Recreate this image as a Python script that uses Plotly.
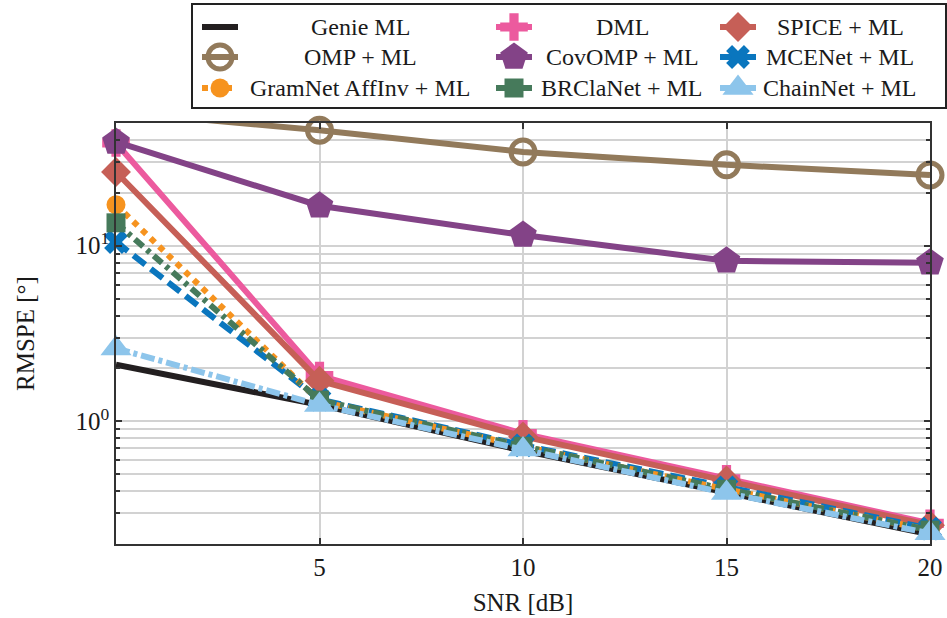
import math
import plotly.graph_objects as go

# SNR grid (dB)
snr = [0, 5, 10, 15, 20]

# RMSPE in degrees per estimator
genie_ml = [2.10, 1.24, 0.68, 0.39, 0.227]
omp_ml = [58.0, 45.4, 34.2, 28.9, 25.3]
dml = [38.5, 1.82, 0.85, 0.47, 0.262]
spice_ml = [26.3, 1.70, 0.82, 0.46, 0.256]
covomp_ml = [39.0, 16.9, 11.5, 8.2, 8.0]
mcenet_ml = [10.5, 1.33, 0.73, 0.42, 0.245]
gramnet_ml = [17.1, 1.30, 0.72, 0.41, 0.240]
brclanet_ml = [13.5, 1.32, 0.72, 0.41, 0.240]
chainnet_ml = [2.60, 1.24, 0.69, 0.39, 0.230]

names = ["Genie ML", "DML", "SPICE + ML",
         "OMP + ML", "CovOMP + ML", "MCENet + ML",
         "GramNet AffInv + ML", "BRClaNet + ML", "ChainNet + ML"]
values = [genie_ml, dml, spice_ml,
          omp_ml, covomp_ml, mcenet_ml,
          gramnet_ml, brclanet_ml, chainnet_ml]

# line / marker styles, same order as names
styles = [
    dict(color="#231f20", dash="solid", symbol=None, size=0, lw=0),
    dict(color="#ec5a9e", dash="solid", symbol="cross", size=23, lw=0),
    dict(color="#c65f57", dash="solid", symbol="diamond", size=23, lw=0),
    dict(color="#927a5b", dash="solid", symbol="circle-open", size=24, lw=5),
    dict(color="#834387", dash="solid", symbol="pentagon", size=29, lw=0),
    dict(color="#0a76be", dash="15px,7px", symbol="x", size=21, lw=0),
    dict(color="#f6931f", dash="6px,6px", symbol="circle", size=19, lw=0),
    dict(color="#467a5b", dash="11px,5px,4px,5px", symbol="square", size=19, lw=0),
    dict(color="#8dc5eb", dash="14px,4px,4px,4px", symbol="triangle-up", size=27, lw=0),
]

W, H = 947, 618
FONT = "Liberation Serif"
FS = 25
LEG_FS = 24

fig = go.Figure()

for name, vals, st in zip(names, values, styles):
    mode = "lines" if st["symbol"] is None else "lines+markers"
    marker = None
    if st["symbol"] is not None:
        marker = dict(symbol=st["symbol"], size=st["size"], color=st["color"],
                      line=dict(width=st["lw"], color=st["color"]))
    fig.add_trace(go.Scatter(
        x=snr, y=vals, name=name, mode=mode,
        line=dict(color=st["color"], width=6, dash=st["dash"]),
        marker=marker, cliponaxis=False, showlegend=False,
        xaxis="x", yaxis="y", hoverinfo="skip",
    ))

# hand-built legend box: 3 columns x 3 rows, in pixel-like coords
row_y = [27, 57, 88]
sample_x = [220, 514, 738]
text_x = [360, 622, 840]
half = 18
annotations = []
for i, (name, st) in enumerate(zip(names, styles)):
    r, c = divmod(i, 3)
    cx, cy = sample_x[c], row_y[r]
    fig.add_trace(go.Scatter(
        x=[cx - half, cx + half], y=[cy, cy], mode="lines",
        line=dict(color=st["color"], width=6, dash=st["dash"]),
        showlegend=False, xaxis="x2", yaxis="y2", hoverinfo="skip",
    ))
    if st["symbol"] is not None:
        fig.add_trace(go.Scatter(
            x=[cx], y=[cy], mode="markers",
            marker=dict(symbol=st["symbol"], size=st["size"], color=st["color"],
                        line=dict(width=st["lw"], color=st["color"])),
            showlegend=False, xaxis="x2", yaxis="y2", hoverinfo="skip",
        ))
    annotations.append(dict(
        x=text_x[c], y=cy, xref="x2", yref="y2", text=name, showarrow=False,
        xanchor="center", yanchor="middle",
        font=dict(family=FONT, size=LEG_FS, color="#1a1a1a"),
    ))

grid_col = "#d2d2d2"
frame_col = "#333333"
minor_vals = [0.2, 0.3, 0.4, 0.5, 0.6, 0.7, 0.8, 0.9,
              2, 3, 4, 5, 6, 7, 8, 9, 20, 30, 40, 50]

fig.update_layout(
    width=W, height=H,
    margin=dict(l=0, r=0, t=0, b=0),
    paper_bgcolor="white", plot_bgcolor="white",
    font=dict(family=FONT, size=FS, color="#1a1a1a"),
    annotations=annotations,
    xaxis=dict(
        domain=[116 / W, 930 / W], anchor="y", range=[0, 20],
        tickmode="array", tickvals=[5, 10, 15, 20],
        ticks="inside", ticklen=6, tickwidth=1.5, tickcolor=frame_col,
        showline=True, mirror="allticks", linecolor=frame_col, linewidth=1.5,
        showgrid=True, gridcolor=grid_col, gridwidth=1.5, zeroline=False,
        tickfont=dict(family=FONT, size=FS, color="#1a1a1a"),
        title=dict(text="SNR [dB]", standoff=14,
                   font=dict(family=FONT, size=FS, color="#1a1a1a")),
        automargin=False,
    ),
    yaxis=dict(
        domain=[(H - 544) / H, (H - 123) / H], anchor="x", type="log",
        range=[math.log10(0.2), math.log10(50)],
        tickmode="array", tickvals=[1, 10],
        ticktext=["10<sup>0</sup>", "10<sup>1</sup>"],
        ticks="inside", ticklen=6, tickwidth=1.5, tickcolor=frame_col,
        minor=dict(tickmode="array", tickvals=minor_vals, ticks="inside",
                   ticklen=4, tickcolor=frame_col, showgrid=True,
                   gridcolor=grid_col, gridwidth=1.5),
        showline=True, mirror="allticks", linecolor=frame_col, linewidth=1.5,
        showgrid=True, gridcolor=grid_col, gridwidth=1.5, zeroline=False,
        tickfont=dict(family=FONT, size=FS, color="#1a1a1a"),
        title=dict(text="RMSPE [°]", standoff=34,
                   font=dict(family=FONT, size=FS, color="#1a1a1a")),
        automargin=False,
    ),
    xaxis2=dict(
        domain=[193 / W, 945 / W], anchor="y2", range=[193, 945],
        showticklabels=False, ticks="", showgrid=False, zeroline=False,
        showline=True, mirror=True, linecolor="#222222", linewidth=1.5,
        fixedrange=True,
    ),
    yaxis2=dict(
        domain=[(H - 107) / H, (H - 5) / H], anchor="x2", range=[107, 5],
        showticklabels=False, ticks="", showgrid=False, zeroline=False,
        showline=True, mirror=True, linecolor="#222222", linewidth=1.5,
        fixedrange=True,
    ),
)

fig.write_html("out.html")
